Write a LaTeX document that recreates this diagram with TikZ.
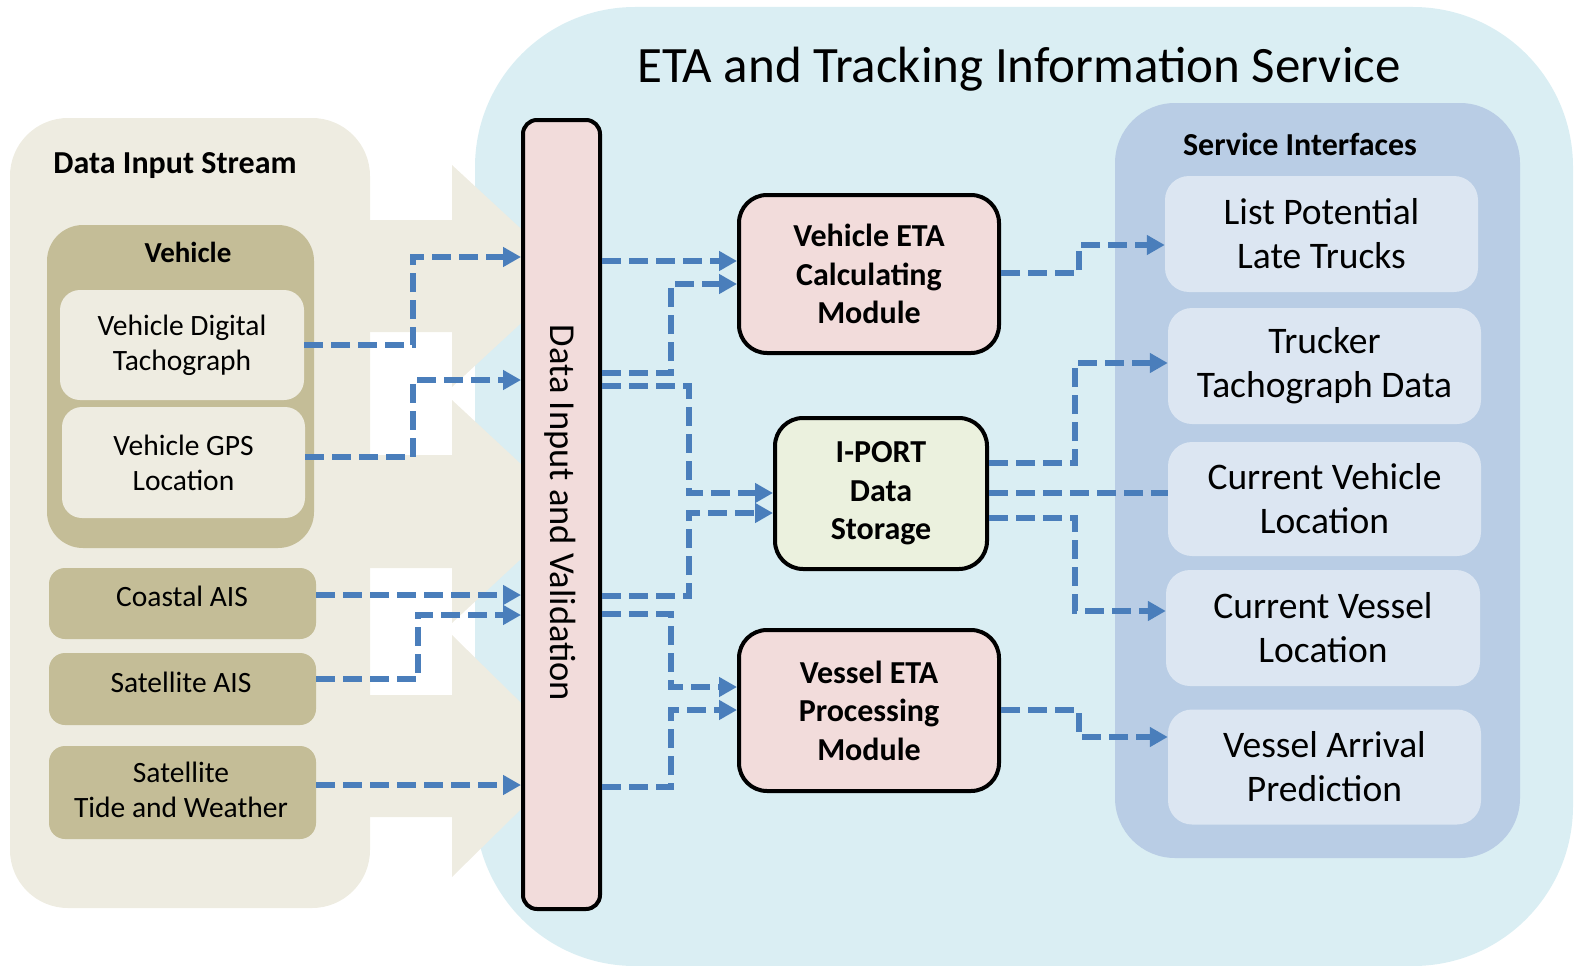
\documentclass[tikz,border=0pt]{standalone}
\usepackage{fontspec}
\setmainfont{Carlito}
\usetikzlibrary{arrows.meta}
\definecolor{lblue}{HTML}{DAEEF3}
\definecolor{beige}{HTML}{EEECE1}
\definecolor{dbeige}{HTML}{C4BD97}
\definecolor{sblue}{HTML}{B9CDE5}
\definecolor{sbox}{HTML}{DCE6F2}
\definecolor{pinkf}{HTML}{F2DCDB}
\definecolor{greenf}{HTML}{EBF1DE}
\definecolor{flowc}{HTML}{4A7EBB}
\newcommand\myfs[2]{\fontsize{#1}{#2}\selectfont}
\tikzset{
  lightbox/.style={rectangle, rounded corners=20pt, fill=beige, inner sep=0pt, align=center, font=\myfs{29.5}{35}},
  darkbox/.style={rectangle, rounded corners=16pt, fill=dbeige, inner sep=0pt, align=center, font=\myfs{29.5}{35}},
  modbox/.style={rectangle, rounded corners=28pt, draw=black, line width=4pt, inner sep=0pt, align=center, font=\bfseries\myfs{32}{38.5}},
  svcbox/.style={rectangle, rounded corners=24pt, fill=sbox, inner sep=0pt, align=center, font=\myfs{37.5}{44}},
  lbl/.style={inner sep=0pt, align=center},
  flowline/.style={draw=flowc, line width=5.5pt, dash pattern=on 19pt off 8pt},
  flow/.style={flowline, -{Triangle[length=18pt,width=19pt]}}
}
\begin{document}
\begin{tikzpicture}[x=1pt,y=-1pt]
\useasboundingbox (0,0) rectangle (1575,966);
% regions
\fill[lblue, rounded corners=160pt] (475,7) rectangle (1573,966);
\fill[beige, rounded corners=58pt] (10,118) rectangle (370,908);
\fill[beige] (360,220) rectangle (452,332) (452,165) -- (572,276) -- (452,387) -- cycle;
\fill[beige] (360,455) rectangle (452,568) (452,400) -- (572,511.5) -- (452,623) -- cycle;
\fill[beige] (360,695) rectangle (452,817) (452,635) -- (575,756) -- (452,877) -- cycle;
\fill[sblue, rounded corners=60pt] (1115,103) rectangle (1520,858);
% titles
\node[lbl, font=\myfs{51}{61}] (title) at (1019,69) {ETA and Tracking Information Service};
\node[lbl, font=\bfseries\myfs{32}{38}] (dis) at (175,166) {Data Input Stream};
\node[lbl, font=\bfseries\myfs{32}{38}] (sit) at (1300,144) {Service Interfaces};
% left side
\node[darkbox, rounded corners=36pt, minimum width=267pt, minimum height=323pt] (vehgrp) at (180.5,386.5) {};
\node[lbl, font=\bfseries\myfs{29}{35}] (veh) at (188,252) {Vehicle};
\node[lightbox, minimum width=244pt, minimum height=110pt] (vdt) at (182,345) {Vehicle Digital\\Tachograph};
\node[lightbox, minimum width=243pt, minimum height=111pt] (vgps) at (183.5,462.5) {Vehicle GPS\\Location};
\node[darkbox, minimum width=267pt, minimum height=71pt] (cais) at (182.5,603.5) {};
\node[lbl, font=\myfs{29.5}{35}] (caist) at (182,596) {Coastal AIS};
\node[darkbox, minimum width=267pt, minimum height=72pt] (sais) at (182.5,689) {};
\node[lbl, font=\myfs{29.5}{35}] (saist) at (181,682) {Satellite AIS};
\node[darkbox, minimum width=267pt, minimum height=93pt] (tide) at (182.5,792.5) {};
\node[lbl, font=\myfs{29.5}{35}] (tidet) at (181,790) {Satellite\\Tide and Weather};
% bar
\node[rectangle, rounded corners=14pt, draw=black, line width=4pt, fill=pinkf, minimum width=77pt, minimum height=789pt] (bar) at (561.5,514.5) {};
\node[lbl, rotate=-90, font=\myfs{36.5}{44}] (bart) at (560,513) {Data Input and Validation};
% modules
\node[modbox, fill=pinkf, minimum width=260pt, minimum height=158pt] (veta) at (869,274) {Vehicle ETA\\Calculating\\Module};
\node[modbox, fill=greenf, minimum width=212pt, minimum height=151pt] (iport) at (881,493.5) {I-PORT\\Data\\Storage};
\node[modbox, fill=pinkf, minimum width=260pt, minimum height=161pt] (veseta) at (869,710.5) {Vessel ETA\\Processing\\Module};
% services
\node[svcbox, minimum width=313pt, minimum height=116pt] (lplt) at (1321.5,234) {List Potential\\Late Trucks};
\node[svcbox, minimum width=313pt, minimum height=116pt] (ttd) at (1324.5,366) {Trucker\\Tachograph Data};
\node[svcbox, minimum width=313pt, minimum height=114pt] (cvl) at (1324.5,499) {Current Vehicle\\Location};
\node[svcbox, minimum width=314pt, minimum height=116pt] (cvesl) at (1323,628) {Current Vessel\\Location};
\node[svcbox, minimum width=313pt, minimum height=115pt] (vap) at (1324.5,767) {Vessel Arrival\\Prediction};
% flows into bar
\draw[flow] (vdt.east) -- ++(109,0) |- (bar.west |- 0,257);
\draw[flow] (vgps.east |- 0,457) -- (413,457) |- (bar.west |- 0,380);
\draw[flow] (cais.east |- 0,595) -- (bar.west |- 0,595);
\draw[flow] (sais.east |- 0,679) -- (418,679) |- (bar.west |- 0,615);
\draw[flow] (tide.east |- 0,785) -- (bar.west |- 0,785);
% flows out of bar
\draw[flow] (bar.east |- 0,261) -- (veta.west |- 0,261);
\draw[flow] (bar.east |- 0,373) -- (671,373) |- (veta.west |- 0,284);
\draw[flow] (bar.east |- 0,386) -- (689,386) |- (iport.west |- 0,493);
\draw[flow] (bar.east |- 0,596) -- (689,596) |- (iport.west |- 0,513);
\draw[flow] (bar.east |- 0,614) -- (671,614) |- (veseta.west |- 0,687);
\draw[flow] (bar.east |- 0,787) -- (671,787) |- (veseta.west |- 0,710);
% flows to services
\draw[flow] (veta.east |- 0,273) -- (1079,273) |- (lplt.west |- 0,245);
\draw[flow] (iport.east |- 0,463) -- (1075,463) |- (ttd.west |- 0,363);
\draw[flowline] (iport.east |- 0,493) -- (cvl.west |- 0,493);
\draw[flow] (iport.east |- 0,518) -- (1075,518) |- (cvesl.west |- 0,611);
\draw[flow] (veseta.east |- 0,710) -- (1079,710) |- (vap.west |- 0,737);
\end{tikzpicture}
\end{document}
